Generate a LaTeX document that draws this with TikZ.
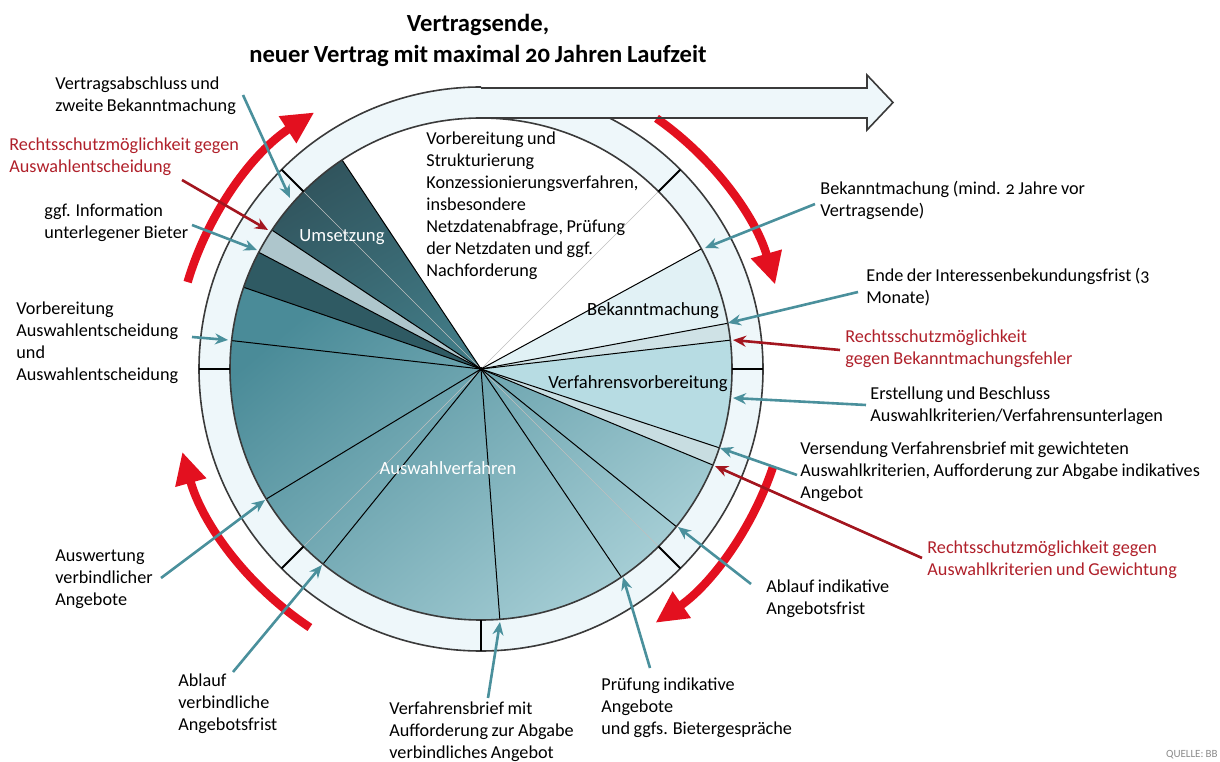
\documentclass[tikz,border=0pt]{standalone}
\usepackage{fontspec}
\setmainfont{Carlito}[Numbers=OldStyle, WordSpace=0.85]
\usetikzlibrary{arrows.meta}
\definecolor{tealarrow}{HTML}{4A909C}
\definecolor{rdark}{HTML}{A3161F}
\definecolor{rbright}{HTML}{E3101F}
\definecolor{ringfill}{HTML}{EEF7FA}
\definecolor{ringline}{HTML}{3A3A3A}
\definecolor{bekfill}{HTML}{E1F1F5}
\definecolor{thinone}{HTML}{CFE2E6}
\definecolor{vvfill}{HTML}{B7DCE3}
\definecolor{thintwo}{HTML}{C8DDE1}
\definecolor{avtop}{HTML}{4A8B98}
\definecolor{avbot}{HTML}{AAD1D8}
\definecolor{darkslice}{HTML}{2F5A63}
\definecolor{lightslice}{HTML}{AEC6CC}
\definecolor{umtop}{HTML}{31555E}
\definecolor{umbot}{HTML}{417A85}
\definecolor{redtext}{HTML}{B0202A}
\newcommand\mkslice[3]{\path[#1] (C) -- ++(#2:251) arc[start angle=#2,end angle=#3,radius=251] -- cycle;}
\tikzset{
  lbl/.style={anchor=north west, inner sep=0pt, align=left, text=black},
  redlbl/.style={lbl, text=redtext},
  tarr/.style={draw=tealarrow, line width=1.3pt, -{Stealth[length=6.5pt,width=5.5pt]}},
  rarr/.style={draw=rdark, line width=1.3pt, -{Stealth[length=6.5pt,width=5.5pt]}},
  bigred/.style={draw=rbright, line width=4.2pt, -{Triangle[length=16pt,width=15pt]}},
  ringl/.style={draw=ringline, line width=0.8pt},
  tick/.style={draw=black, line width=0.9pt},
  sliceline/.style={draw=black, line width=0.5pt},
  faint/.style={draw=black!25, line width=0.3pt},
  inlbl/.style={inner sep=0pt, font=\fontsize{9.3}{11}\selectfont}
}
\begin{document}
\begin{tikzpicture}[x=0.5pt,y=0.5pt, font=\fontsize{9.1}{11}\selectfont]
\useasboundingbox (0,0) rectangle (1220,761);
\fill[white] (0,0) rectangle (1220,761);
\coordinate (C) at (481,392);

% ring fill
\fill[ringfill, even odd rule] (C) circle[radius=282] (C) circle[radius=251];
\fill[ringfill] (481,643) rectangle (867,673);
\fill[ringfill] (867,686) -- (893,658.5) -- (867,631) -- cycle;

% big red arcs
\draw[bigred] (C) ++(163.5:306) arc[start angle=163.5,end angle=123,radius=306];
\draw[bigred] (C) ++(55:306) arc[start angle=55,end angle=16,radius=306];
\draw[bigred] (C) ++(-18.6:308) arc[start angle=-18.6,end angle=-55.5,radius=308];
\draw[bigred] (C) ++(-123.5:310) arc[start angle=-123.5,end angle=-164.5,radius=310];

% pie slices
\mkslice{fill=bekfill}{10.5}{28.6}
\mkslice{fill=thinone}{6.6}{10.5}
\mkslice{fill=vvfill}{-18.3}{6.6}
\mkslice{fill=thintwo}{-22.5}{-18.3}
\path[top color=avtop, bottom color=avbot, shading angle=40] (C) -- ++(-199:251) arc[start angle=-199,end angle=-22.5,radius=251] -- cycle;
\mkslice{fill=darkslice}{152.3}{161}
\mkslice{fill=lightslice}{146.4}{152.3}
\path[top color=umtop, bottom color=umbot, shading angle=30] (C) -- ++(123.6:251) arc[start angle=123.6,end angle=146.4,radius=251] -- cycle;

% faint construction lines
\foreach \a in {45,135,-45,-135} \draw[faint] (C) -- ++(\a:251);

% slice boundaries
\foreach \a in {123.6,146.4,152.3,161,173.5,-148.8,-129,-85.7,-56,-38.9,-22.5,-18.3,6.6,10.5,28.6}
  \draw[sliceline] (C) -- ++(\a:251);
\fill[black] (C) circle[radius=2];

% ring lines
\draw[ringl] (C) circle[radius=251];
\draw[ringl] (C) ++(90:282) arc[start angle=90,end angle=423,radius=282];
\draw[ringl] (481,673) -- (867,673) -- (867,686) -- (893,658.5) -- (867,631) -- (867,643) -- (481,643);
\foreach \a in {0,45,135,180,-135,-90,-45} \draw[tick] (C) ++(\a:251) -- ++(\a:31);

% title
\node[font=\fontsize{12.3}{15.5}\selectfont\bfseries, align=center, inner sep=0pt] (title) at (478,721) {Vertragsende,\\neuer Vertrag mit maximal 20 Jahren Laufzeit};

% slice labels
\node[inlbl, text=white] (lumsetz) at (342,524) {Umsetzung};
\node[inlbl] (lbek) at (653,450) {Bekanntmachung};
\node[inlbl] (lvv) at (638,377) {Verfahrensvorbereitung};
\node[inlbl, text=white] (lav) at (448,293) {Auswahlverfahren};

% text labels
\node[lbl] (vorb) at (426,630) {Vorbereitung und\\Strukturierung\\Konzessionierungsverfahren,\\insbesondere\\Netzdatenabfrage, Prüfung\\der Netzdaten und ggf.\\Nachforderung};
\node[lbl] (vab) at (55,685) {Vertragsabschluss und\\zweite Bekanntmachung};
\node[redlbl] (rsa) at (9,624) {Rechtsschutzmöglichkeit gegen\\Auswahlentscheidung};
\node[lbl] (ggf) at (44,557) {ggf. Information\\unterlegener Bieter};
\node[lbl] (vae) at (16,460) {Vorbereitung\\Auswahlentscheidung\\und\\Auswahlentscheidung};
\node[lbl] (ausw) at (55,212) {Auswertung\\verbindlicher\\Angebote};
\node[lbl] (abv) at (178,88) {Ablauf\\verbindliche\\Angebotsfrist};
\node[lbl] (vbrief) at (389,60) {Verfahrensbrief mit\\Aufforderung zur Abgabe\\verbindliches Angebot};
\node[lbl] (pruef) at (601,84) {Prüfung indikative\\Angebote\\und ggfs. Bietergespräche};
\node[lbl] (abi) at (766,182) {Ablauf indikative\\Angebotsfrist};
\node[lbl] (bek) at (820,580) {Bekanntmachung (mind. 2 Jahre vor\\Vertragsende)};
\node[lbl] (ende) at (866,493) {Ende der Interessenbekundungsfrist (3\\Monate)};
\node[redlbl] (rsb) at (845,432) {Rechtsschutzmöglichkeit\\gegen Bekanntmachungsfehler};
\node[lbl] (erst) at (870,375) {Erstellung und Beschluss\\Auswahlkriterien/Verfahrensunterlagen};
\node[lbl] (vers) at (800,320) {Versendung Verfahrensbrief mit gewichteten\\Auswahlkriterien, Aufforderung zur Abgabe indikatives\\Angebot};
\node[redlbl] (rsc) at (927,221) {Rechtsschutzmöglichkeit gegen\\Auswahlkriterien und Gewichtung};
\node[anchor=south east, inner sep=0pt, text=black!45, font=\fontsize{5.5}{6}\selectfont] (quelle) at (1218,2) {QUELLE: BB};

% arrow endpoints
\coordinate (vab-s) at (243,666);   \coordinate (vab-t) at (290,563);
\coordinate (rsa-s) at (182,581);   \coordinate (rsa-t) at (268,531);
\coordinate (ggf-s) at (192,536);   \coordinate (ggf-t) at (257,511);
\coordinate (vae-s) at (192,424);   \coordinate (vae-t) at (228,421);
\coordinate (ausw-s) at (161,183);  \coordinate (ausw-t) at (265,261);
\coordinate (abv-s) at (233,89);    \coordinate (abv-t) at (322,196);
\coordinate (vbrief-s) at (488,63); \coordinate (vbrief-t) at (500,139);
\coordinate (pruef-s) at (650,93);  \coordinate (pruef-t) at (623,184);
\coordinate (abi-s) at (751,177);   \coordinate (abi-t) at (678,234);
\coordinate (bek-s) at (815,557);   \coordinate (bek-t) at (705,513);
\coordinate (ende-s) at (858,469);  \coordinate (ende-t) at (728,438);
\coordinate (rsb-s) at (840,411);   \coordinate (rsb-t) at (733,421);
\coordinate (erst-s) at (866,356);  \coordinate (erst-t) at (733,363);
\coordinate (vers-s) at (797,286);  \coordinate (vers-t) at (720,313);
\coordinate (rsc-s) at (922,203);   \coordinate (rsc-t) at (715,295);

\foreach \n in {vab,ggf,vae,ausw,abv,vbrief,pruef,abi,bek,ende,erst,vers}
  \draw[tarr] (\n-s) -- (\n-t);
\foreach \n in {rsa,rsb,rsc}
  \draw[rarr] (\n-s) -- (\n-t);
\end{tikzpicture}
\end{document}
